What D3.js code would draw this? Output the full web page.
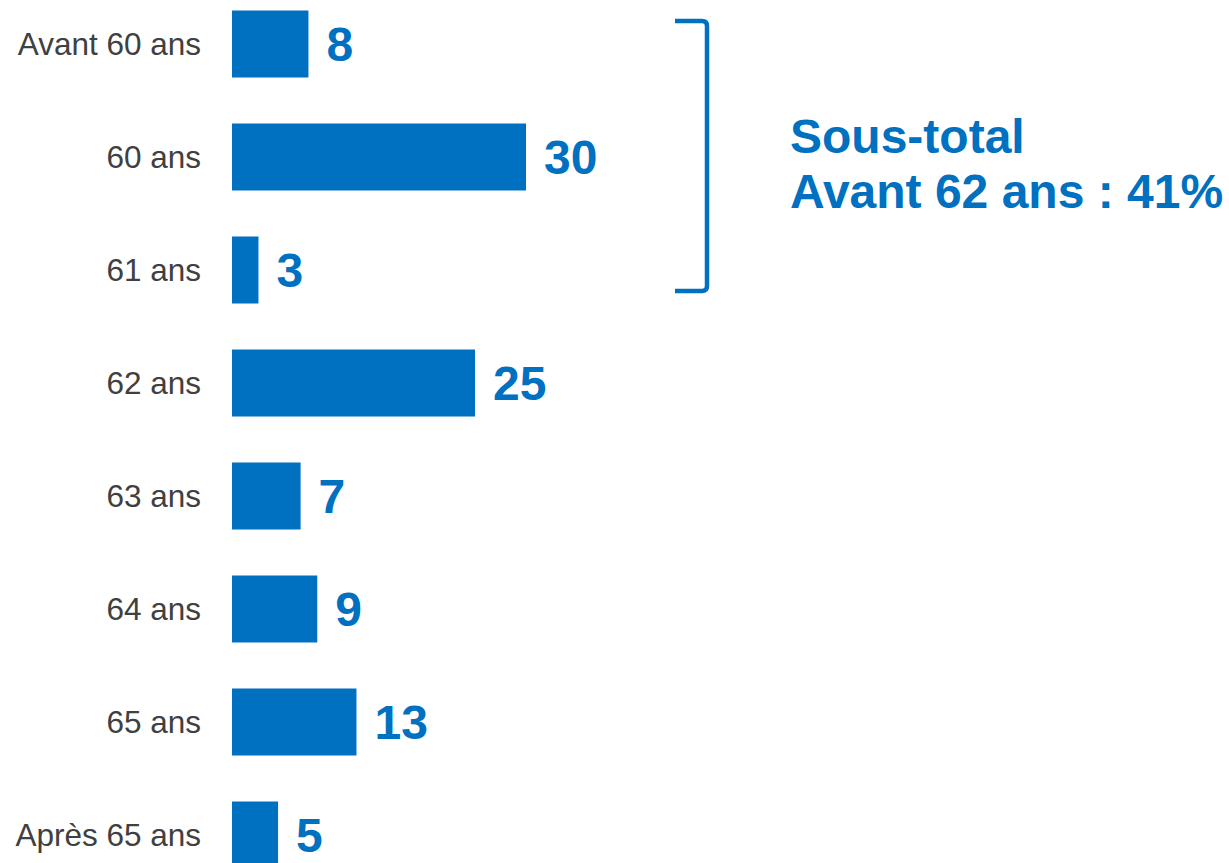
<!DOCTYPE html>
<html><head><meta charset="utf-8">
<script src="https://cdn.jsdelivr.net/npm/d3@7"></script>
<style>html,body{margin:0;padding:0;background:#fff;overflow:hidden}</style>
</head><body>
<svg id="c" width="1229" height="863"></svg>
<script>
const categories = ["Avant 60 ans","60 ans","61 ans","62 ans","63 ans","64 ans","65 ans","Après 65 ans"];
const values = [7.8, 30, 2.7, 24.8, 7.0, 8.7, 12.7, 4.7];
const valueLabels = ["8","30","3","25","7","9","13","5"];
const subtotalLines = ["Sous-total", "Avant 62 ans : 41%"];
const bracketGroup = ["Avant 60 ans","60 ans","61 ans"];

const blue = "#0070C0";
const svg = d3.select("#c");
const x = d3.scaleLinear().domain([0, 30]).range([232, 526]);
const y = d3.scaleBand().domain(categories).range([-12.5, 891.5]).paddingInner(0.407).paddingOuter(0.2035);

svg.selectAll("rect.bar").data(categories).join("rect")
  .attr("class","bar")
  .attr("x", x(0))
  .attr("y", d => y(d))
  .attr("width", (d,i) => x(values[i]) - x(0))
  .attr("height", y.bandwidth())
  .attr("fill", blue);

svg.selectAll("text.cat").data(categories).join("text")
  .attr("class","cat")
  .attr("x", 201)
  .attr("y", d => y(d) + y.bandwidth()/2)
  .attr("dy","0.36em")
  .attr("text-anchor","end")
  .attr("font-family","'Liberation Sans', Arial, sans-serif")
  .attr("font-size", 31.5)
  .attr("fill","#404040")
  .text(d => d);

svg.selectAll("text.val").data(categories).join("text")
  .attr("class","val")
  .attr("x", (d,i) => x(values[i]) + 18)
  .attr("y", d => y(d) + y.bandwidth()/2)
  .attr("dy","0.36em")
  .attr("font-family","'Liberation Sans', Arial, sans-serif")
  .attr("font-weight","bold")
  .attr("font-size", 48)
  .attr("fill", blue)
  .text((d,i) => valueLabels[i]);

// bracket
const bTop = y(bracketGroup[0]) + 10.5;
const bBot = y(bracketGroup[bracketGroup.length-1]) + y.bandwidth() - 12.5;
const bx0 = 675, bx1 = 707, r = 5;
svg.append("path")
  .attr("d", `M${bx0},${bTop} L${bx1-r},${bTop} Q${bx1},${bTop} ${bx1},${bTop+r} L${bx1},${bBot-r} Q${bx1},${bBot} ${bx1-r},${bBot} L${bx0},${bBot}`)
  .attr("fill","none").attr("stroke", blue).attr("stroke-width", 4.5);

svg.selectAll("text.sub").data(subtotalLines).join("text")
  .attr("class","sub")
  .attr("x", 790)
  .attr("y", (d,i) => 153 + i*55)
  .attr("font-family","'Liberation Sans', Arial, sans-serif")
  .attr("font-weight","bold")
  .attr("font-size", 48)
  .attr("fill", blue)
  .text(d => d);
</script>
</body></html>
